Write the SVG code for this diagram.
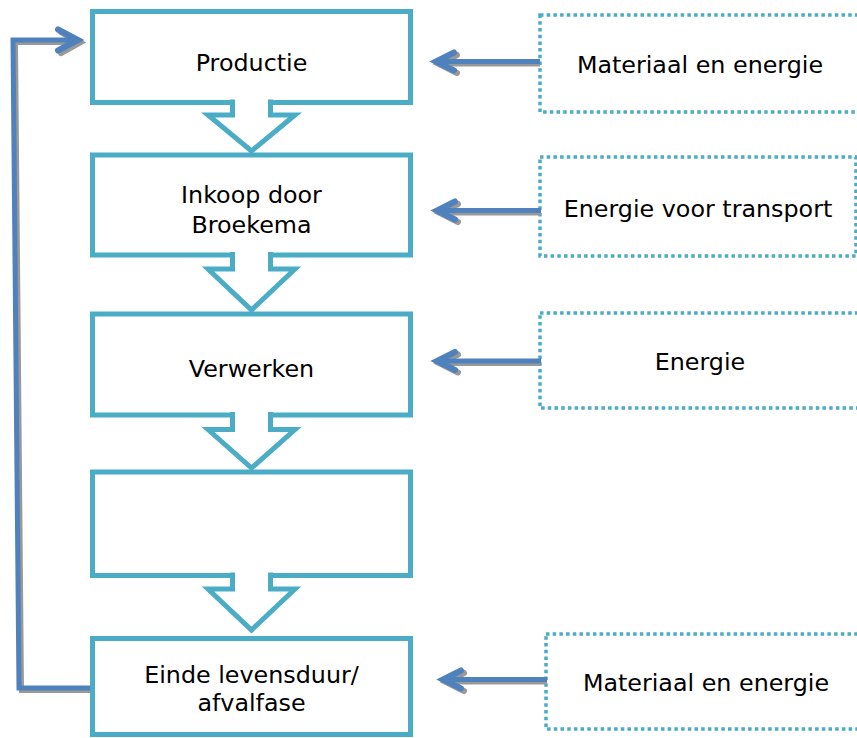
<svg xmlns="http://www.w3.org/2000/svg" width="857" height="738" viewBox="0 0 857 738">
<style>
.box{fill:#fff;stroke:#4bacc6;stroke-width:5}
.blk{fill:#fff;stroke:#4bacc6;stroke-width:5;stroke-linejoin:miter}
.dot{fill:#fff;stroke:#4bacc6;stroke-width:3.5;stroke-dasharray:3.5 3.2}
.t{font-family:"DejaVu Sans",Verdana,sans-serif;font-size:23.8px;fill:#000;text-anchor:middle}
.sh{fill:none;stroke:#999;stroke-width:5;stroke-linecap:butt;stroke-linejoin:miter}
.bl{fill:none;stroke:#4f81bd;stroke-width:5;stroke-linecap:butt;stroke-linejoin:miter}
.hd{stroke-linecap:round;stroke-width:6}
</style>
<defs>
<g id="la">
<path class="sh" d="M3 2.5 H104"/><path class="sh hd" d="M21 11.5 L3 2.5 L21 -6.5"/>
<path class="bl" d="M0 0 H104"/><path class="bl hd" d="M18 9 L0 0 L18 -9"/>
</g>
</defs>
<rect width="857" height="738" fill="#fff"/>

<g id="n1"><rect class="box" x="92.5" y="11.5" width="318" height="91"/><text class="t" x="251.5" y="71">Productie</text></g>
<g id="n2"><rect class="box" x="92.5" y="155" width="318" height="100"/><text class="t" x="251.5" y="203">Inkoop door</text><text class="t" x="251.5" y="233">Broekema</text></g>
<g id="n3"><rect class="box" x="92.5" y="314" width="318" height="101"/><text class="t" x="251.5" y="377">Verwerken</text></g>
<g id="n4"><rect class="box" x="92.5" y="472" width="318" height="103.5"/></g>
<g id="n5"><rect class="box" x="92.5" y="638.5" width="318" height="96"/><text class="t" x="251.5" y="683">Einde levensduur/</text><text class="t" x="251.5" y="711">afvalfase</text></g>

<g id="i1"><rect class="dot" x="540" y="15" width="330" height="97"/><text class="t" x="700" y="73">Materiaal en energie</text></g>
<g id="i2"><rect class="dot" x="540" y="157" width="316" height="99"/><text class="t" x="698" y="217">Energie voor transport</text></g>
<g id="i3"><rect class="dot" x="540" y="313" width="330" height="95"/><text class="t" x="700" y="370">Energie</text></g>
<g id="i4"><rect class="dot" x="546" y="634" width="330" height="95"/><text class="t" x="706" y="691">Materiaal en energie</text></g>

<g id="connectors">
<path class="blk" d="M232.5 99.5 V115 H208 L251.5 151 L295 115 H270.5 V99.5"/>
<path class="blk" d="M232.5 252 V269 H208 L251.5 310 L295 269 H270.5 V252"/>
<path class="blk" d="M232.5 412 V429.5 H208 L251.5 468 L295 429.5 H270.5 V412"/>
<path class="blk" d="M232.5 572.5 V589 H208 L251.5 630 L295 589 H270.5 V572.5"/>

<use href="#la" x="436" y="61.5"/>
<use href="#la" x="437" y="210.5"/>
<use href="#la" x="437" y="361"/>
<use href="#la" x="443" y="679.5"/>

<path class="sh" d="M90 690.5 H21.5 L15.5 42.5 H76"/>
<path class="sh hd" d="M61 32 L80 42.5 L61 53"/>
<path class="bl" d="M90 688 H19 L13 40 H76"/>
<path class="bl hd" d="M58 29.5 L78 40 L58 50.5"/>
</g>
</svg>
